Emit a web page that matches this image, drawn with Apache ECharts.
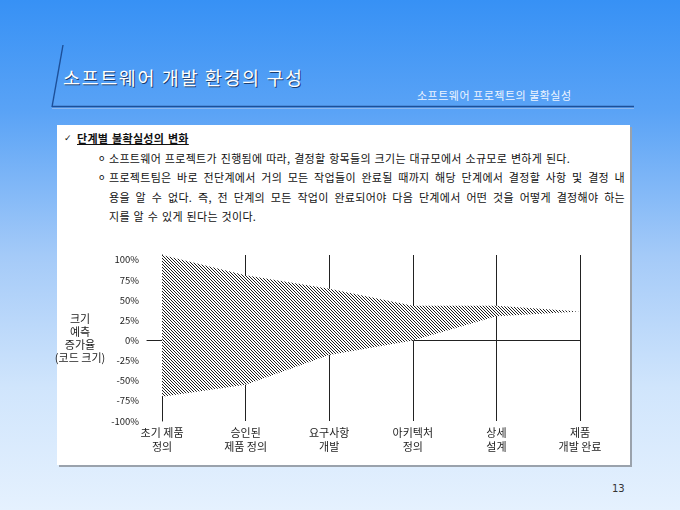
<!DOCTYPE html>
<html>
<head>
<meta charset="utf-8">
<script src="https://cdn.jsdelivr.net/npm/echarts@6/dist/echarts.min.js"></script>
<style>
  html, body { margin: 0; padding: 0; }
  body {
    width: 680px; height: 510px; position: relative; overflow: hidden;
    font-family: "Noto Sans CJK KR", sans-serif;
    background: linear-gradient(to bottom, #3791f5 0%, #5aa3f6 22%, #a4caf8 50%, #d0e5fc 76%, #e5f1fe 100%);
  }
  .abs { position: absolute; white-space: nowrap; }
  #deco { position: absolute; left: 0; top: 0; }
  #title { left: 63px; top: 66px; font-size: 18.5px; line-height: 22px; color: #fff; letter-spacing: 1.6px;
    text-shadow: 1px 1px 0 #1d3e70; }
  #subtitle { left: 417px; top: 88px; font-size: 11px; line-height: 14px; color: #eef5ff; letter-spacing: 0.5px; }
  #box { position: absolute; left: 57px; top: 125px; width: 573px; height: 340px; background: #fff;
    box-shadow: 2px 2px 0 #9aa2ac; }
  .txt { font-size: 11px; line-height: 14px; color: #111; letter-spacing: 0.3px; word-spacing: 1px; }
  #check { left: 64px; top: 131px; font-family: "DejaVu Sans"; font-size: 9px; line-height: 14px; color: #111; }
  #heading { left: 77px; top: 131px; font-weight: bold; text-decoration: underline; }
  .bullet { font-size: 9px; line-height: 14px; color: #111; }
  .just { width: 516px; text-align: justify; text-align-last: justify; }
  #page { left: 612px; top: 482px; font-size: 10px; line-height: 14px; color: #333; font-family: "DejaVu Sans"; }
  #chart { position: absolute; left: 0; top: 0; width: 680px; height: 510px; }
</style>
</head>
<body>
<svg id="deco" width="680" height="510">
  <line x1="63" y1="45" x2="52" y2="107" stroke="#1d4f98" stroke-width="1.4"/>
  <line x1="52" y1="106.5" x2="634" y2="106.5" stroke="#1d4f98" stroke-width="1.4"/>
  <line x1="52" y1="108.5" x2="634" y2="108.5" stroke="#8fb8ee" stroke-width="1"/>
</svg>
<div id="title" class="abs">소프트웨어 개발 환경의 구성</div>
<div id="subtitle" class="abs">소프트웨어 프로젝트의 불확실성</div>
<div id="box"></div>
<div id="check" class="abs">✓</div>
<div id="heading" class="abs txt">단계별 불확실성의 변화</div>
<div class="abs bullet" style="left:99px;top:151px">o</div>
<div class="abs txt" style="left:109px;top:151px">소프트웨어 프로젝트가 진행됨에 따라, 결정할 항목들의 크기는 대규모에서 소규모로 변하게 된다.</div>
<div class="abs bullet" style="left:99px;top:170px">o</div>
<div class="abs txt just" style="left:109px;top:170px">프로젝트팀은 바로 전단계에서 거의 모든 작업들이 완료될 때까지 해당 단계에서 결정할 사항 및 결정 내</div>
<div class="abs txt just" style="left:109px;top:190px">용을 알 수 없다. 즉, 전 단계의 모든 작업이 완료되어야 다음 단계에서 어떤 것을 어떻게 결정해야 하는</div>
<div class="abs txt" style="left:109px;top:209px">지를 알 수 있게 된다는 것이다.</div>
<div id="page" class="abs">13</div>
<div id="chart"></div>
<script>
// 단계 (x축)
const stages = ["초기 제품\n정의", "승인된\n제품 정의", "요구사항\n개발", "아키텍처\n정의", "상세\n설계", "제품\n개발 완료"];
const stageIndex = [0, 1, 2, 3, 4, 5];
// 크기 예측 증가율 상한/하한 (%)
const upperBound = [106, 81, 64, 43, 43, 36];
const lowerBound = [-70, -55, -18, 0, 30, 36];
const yMin = -100;
const yMax = 106;
const yStep = 25;

function hatchPattern() {
  const c = document.createElement("canvas");
  c.width = 3;
  c.height = 3;
  const ctx = c.getContext("2d");
  ctx.fillStyle = "#fff";
  ctx.fillRect(0, 0, 3, 3);
  ctx.fillStyle = "#1e1e1e";
  for (let i = 0; i < 3; i++) {
    ctx.fillRect(i, i, 1, 1);
  }
  return c;
}

const font = "Noto Sans CJK KR";
const hatch = { image: hatchPattern(), repeat: "repeat" };
const chart = echarts.init(document.querySelector("#chart"));
chart.setOption({
  animation: false,
  grid: { left: 147, right: 100, top: 255, bottom: 89 },
  xAxis: {
    type: "value",
    min: -0.18,
    max: stageIndex[stageIndex.length - 1],
    axisLine: { lineStyle: { color: "#111", width: 1 } },
    axisTick: { show: false },
    splitLine: { show: false },
    axisLabel: {
      customValues: stageIndex,
      formatter: v => stages[v] ?? "",
      color: "#222",
      fontFamily: font,
      fontSize: 11,
      lineHeight: 14,
      margin: 5,
    },
  },
  yAxis: {
    type: "value",
    min: yMin,
    max: yMax,
    interval: yStep,
    name: "크기\n예측\n증가율\n(코드 크기)",
    nameLocation: "middle",
    nameRotate: 0,
    nameGap: 60,
    nameTextStyle: { color: "#222", fontFamily: font, fontSize: 11, lineHeight: 13, align: "center", verticalAlign: "middle" },
    axisLine: { show: true, lineStyle: { color: "#111", width: 1 } },
    axisTick: { show: false },
    splitLine: { show: false },
    axisLabel: {
      showMaxLabel: false,
      formatter: v => v + "%",
      color: "#222",
      fontFamily: font,
      fontSize: 9.5,
      margin: 8,
    },
  },
  series: [
    {
      // 단계 구분선과 0% 기준선
      type: "line",
      symbol: "none",
      lineStyle: { width: 0, opacity: 0 },
      data: lowerBound.map((v, i) => [stageIndex[i], v]),
      markLine: {
        silent: true,
        symbol: ["none", "none"],
        label: { show: false },
        lineStyle: { color: "#222", width: 1, type: "solid" },
        data: stageIndex.map(i => ({ xAxis: i })).concat([{ yAxis: 0 }]),
      },
    },
    {
      // 불확실성 원뿔 (상한~하한 사이 빗금)
      type: "custom",
      z: 10,
      silent: true,
      data: [[stageIndex[0], upperBound[0]]],
      renderItem: (params, api) => {
        const top = stageIndex.map((x, i) => api.coord([x, upperBound[i]]));
        const bottom = stageIndex.map((x, i) => api.coord([x, lowerBound[i]])).reverse();
        return {
          type: "polygon",
          shape: { points: top.concat(bottom) },
          style: { fill: hatch, stroke: null },
        };
      },
    },
  ],
});
</script>
</body>
</html>
